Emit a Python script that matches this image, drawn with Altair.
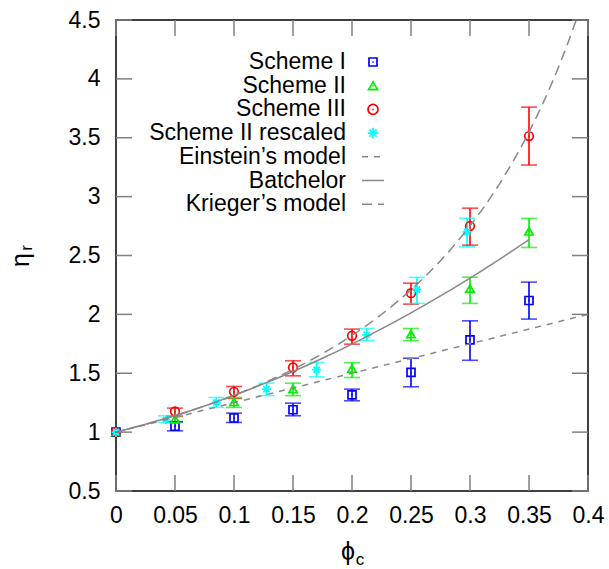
import altair as alt
import pandas as pd

# ---------------- data ----------------
series_names = ["Scheme I", "Scheme II", "Scheme III", "Scheme II rescaled"]
series_colors = ["#0000ff", "#00ee00", "#ff0000", "#00ffff"]

phi = [0.0, 0.05, 0.1, 0.15, 0.2, 0.25, 0.3, 0.35]
phi_rescaled = [0.0, 0.0425, 0.085, 0.1275, 0.17, 0.2125, 0.255, 0.2975]

s1 = [1.0, 1.05, 1.12, 1.19, 1.317, 1.507, 1.784, 2.118]
s1_lo = [1.0, 1.011, 1.082, 1.139, 1.266, 1.385, 1.61, 1.96]
s1_hi = [1.0, 1.088, 1.161, 1.246, 1.365, 1.628, 1.945, 2.274]

s2 = [1.0, 1.11, 1.257, 1.365, 1.54, 1.832, 2.22, 2.705]
s2_lo = [1.0, 1.082, 1.21, 1.31, 1.464, 1.776, 2.093, 2.568]
s2_hi = [1.0, 1.139, 1.294, 1.416, 1.59, 1.88, 2.316, 2.815]

s3 = [1.0, 1.175, 1.342, 1.549, 1.818, 2.18, 2.75, 3.514]
s3_lo = [1.0, 1.133, 1.286, 1.478, 1.747, 2.087, 2.588, 3.268]
s3_hi = [1.0, 1.204, 1.388, 1.606, 1.875, 2.265, 2.902, 3.76]

rs = [1.0, 1.105, 1.252, 1.365, 1.53, 1.826, 2.21, 2.70]
rs_lo = [1.0, 1.082, 1.21, 1.31, 1.47, 1.776, 2.093, 2.574]
rs_hi = [1.0, 1.139, 1.294, 1.416, 1.592, 1.88, 2.314, 2.817]

einstein_phi = [0.0, 0.4]
einstein_eta = [1.0, 2.0]

batchelor_phi = [0.0, 0.025, 0.05, 0.075, 0.1, 0.125, 0.15, 0.175, 0.2,
                 0.225, 0.25, 0.275, 0.3, 0.325, 0.35]
batchelor_eta = [1.0, 1.0664, 1.1405, 1.2224, 1.312, 1.4094, 1.5145, 1.6274,
                 1.748, 1.8764, 2.0125, 2.1564, 2.308, 2.4674, 2.6345]

krieger_phi = [0.0, 0.025, 0.05, 0.075, 0.1, 0.125, 0.15, 0.175, 0.2, 0.225,
               0.25, 0.275, 0.3, 0.325, 0.35, 0.36, 0.37, 0.38, 0.39]
krieger_eta = [1.0, 1.0658, 1.139, 1.2207, 1.3124, 1.4157, 1.5331, 1.6671,
               1.8212, 1.9999, 2.2089, 2.456, 2.7512, 3.1087, 3.5485, 3.7536,
               3.978, 4.226, 4.5]

line_names = ["Einstein\u2019s model", "Batchelor", "Krieger\u2019s model"]

x_ticks = [0.0, 0.05, 0.1, 0.15, 0.2, 0.25, 0.3, 0.35, 0.4]
y_ticks = [0.5, 1.0, 1.5, 2.0, 2.5, 3.0, 3.5, 4.0, 4.5]

# ---------------- tables ----------------
rows = []
for name, xs, ys, lo, hi in [
    (series_names[0], phi, s1, s1_lo, s1_hi),
    (series_names[1], phi, s2, s2_lo, s2_hi),
    (series_names[2], phi, s3, s3_lo, s3_hi),
    (series_names[3], phi_rescaled, rs, rs_lo, rs_hi),
]:
    for x, y, l, h in zip(xs, ys, lo, hi):
        rows.append({"series": name, "phi": x, "eta": y, "lo": l, "hi": h})
df = pd.DataFrame(rows)

df_ein = pd.DataFrame({"phi": einstein_phi, "eta": einstein_eta})
df_bat = pd.DataFrame({"phi": batchelor_phi, "eta": batchelor_eta})
df_kri = pd.DataFrame({"phi": krieger_phi, "eta": krieger_eta})
df_xt = pd.DataFrame({"t": x_ticks})
df_yt = pd.DataFrame({"t": y_ticks})

# ---------------- styling ----------------
W, H = 472, 471
FONT = "Liberation Sans"
GRAY = "#888888"
TICKC = "#808080"
EIN_DASH = [6, 6]
KRI_DASH = [10, 6]

xscale = alt.Scale(domain=[0, 0.4], nice=False, zero=False)
yscale = alt.Scale(domain=[0.5, 4.5], nice=False, zero=False)
xaxis = alt.Axis(values=x_ticks, format="~g", title=None, grid=False, ticks=False,
                 domain=False, labelPadding=13, labelFlush=False, labelOverlap=False)
yaxis = alt.Axis(values=y_ticks, format="~g", title=None, grid=False, ticks=False,
                 domain=False, labelPadding=16, labelFlush=False, labelOverlap=False)

def X(f):
    return alt.X(f, type="quantitative", scale=xscale, axis=xaxis)

def Y(f):
    return alt.Y(f, type="quantitative", scale=yscale, axis=yaxis)

color = alt.Color("series:N", scale=alt.Scale(domain=series_names, range=series_colors), legend=None)
STAR = "M-1,0L1,0M0,-1L0,1M-0.7,-0.7L0.7,0.7M-0.7,0.7L0.7,-0.7"
shapes = ["square", "triangle-up", "circle", STAR]
sizes = [64, 81, 100, 110]
shape = alt.Shape("series:N", scale=alt.Scale(domain=series_names, range=shapes), legend=None)
size = alt.Size("series:N", scale=alt.Scale(domain=series_names, range=sizes), legend=None)

base = alt.Chart(df)
with_err = base.transform_filter("datum.hi > datum.lo")

errbars = with_err.mark_rule(strokeWidth=1.6).encode(x=X("phi"), y=Y("lo"), y2="hi", color=color)
cap_lo = with_err.mark_tick(orient="horizontal", size=16, thickness=1.6).encode(x=X("phi"), y=Y("lo"), color=color)
cap_hi = with_err.mark_tick(orient="horizontal", size=16, thickness=1.6).encode(x=X("phi"), y=Y("hi"), color=color)
points = base.mark_point(filled=False, strokeWidth=1.7, opacity=1).encode(
    x=X("phi"), y=Y("eta"), color=color, shape=shape, size=size)
dots = base.transform_filter(alt.FieldOneOfPredicate(field="series", oneOf=series_names[:3])).mark_point(
    filled=True, shape="circle", size=3, opacity=1).encode(x=X("phi"), y=Y("eta"), color=color)

ein = alt.Chart(df_ein).mark_line(color=GRAY, strokeWidth=1.5, strokeDash=EIN_DASH).encode(x=X("phi"), y=Y("eta"))
bat = alt.Chart(df_bat).mark_line(color=GRAY, strokeWidth=1.5, interpolate="monotone").encode(x=X("phi"), y=Y("eta"))
kri = alt.Chart(df_kri).mark_line(color=GRAY, strokeWidth=1.5, strokeDash=KRI_DASH, interpolate="monotone").encode(x=X("phi"), y=Y("eta"))

TL = 16
xt_bot = alt.Chart(df_xt).mark_rule(color=TICKC, strokeWidth=1.5).encode(x=X("t"), y=alt.value(H), y2=alt.value(H - TL))
xt_top = alt.Chart(df_xt).mark_rule(color=TICKC, strokeWidth=1.5).encode(x=X("t"), y=alt.value(0), y2=alt.value(TL))
yt_left = alt.Chart(df_yt).mark_rule(color=TICKC, strokeWidth=1.5).encode(y=Y("t"), x=alt.value(0), x2=alt.value(TL))
yt_right = alt.Chart(df_yt).mark_rule(color=TICKC, strokeWidth=1.5).encode(y=Y("t"), x=alt.value(W - TL), x2=alt.value(W))

# ---------------- legend (drawn manually, gnuplot style) ----------------
LEG_Y0 = 42
LEG_DY = 23.7
LEG_TX = 230
LEG_SX = 257
legend_layers = []
all_names = series_names + line_names
for i, name in enumerate(all_names):
    yy = LEG_Y0 + i * LEG_DY
    one = alt.Chart(pd.DataFrame({"label": [name]}))
    legend_layers.append(one.mark_text(align="right", baseline="middle", font=FONT, fontSize=23,
                                       color="black").encode(x=alt.value(LEG_TX), y=alt.value(yy), text="label:N"))
    if i < 4:
        legend_layers.append(one.mark_point(filled=False, shape=shapes[i], size=sizes[i], strokeWidth=1.7,
                                            color=series_colors[i], opacity=1).encode(
            x=alt.value(LEG_SX), y=alt.value(yy)))
        if i < 3:
            legend_layers.append(one.mark_point(filled=True, shape="circle", size=3, color=series_colors[i],
                                                opacity=1).encode(x=alt.value(LEG_SX), y=alt.value(yy)))
    else:
        dash = {4: EIN_DASH, 5: [1, 0], 6: KRI_DASH}[i]
        legend_layers.append(one.mark_rule(color=GRAY, strokeWidth=1.5, strokeDash=dash).encode(
            x=alt.value(LEG_SX - 11), x2=alt.value(LEG_SX + 11), y=alt.value(yy)))

# ---------------- axis titles ----------------
def txt(s, x, y, fs, angle=0):
    return alt.Chart(pd.DataFrame({"s": [s]})).mark_text(
        align="center", baseline="middle", font=FONT, fontSize=fs, color="black", angle=angle
    ).encode(x=alt.value(x), y=alt.value(y), text="s:N")

titles = [
    txt("\u03d5", 232, 532, 25),
    txt("c", 244, 540, 17),
    txt("\u03b7", -95, 240, 25, 270),
    txt("r", -89, 228, 17, 270),
]

chart = alt.layer(
    errbars, cap_lo, cap_hi, points, dots, ein, bat, kri,
    xt_bot, xt_top, yt_left, yt_right, *legend_layers, *titles
).properties(
    width=W, height=H,
    autosize=alt.AutoSizeParams(type="none"),
    padding={"left": 116, "top": 20, "right": 21, "bottom": 78},
).configure_view(
    stroke="black", strokeWidth=1.5
).configure_axis(
    labelFont=FONT, labelFontSize=23, labelColor="black"
)

chart.save("out.html", embed_options={"renderer": "svg", "actions": False})
